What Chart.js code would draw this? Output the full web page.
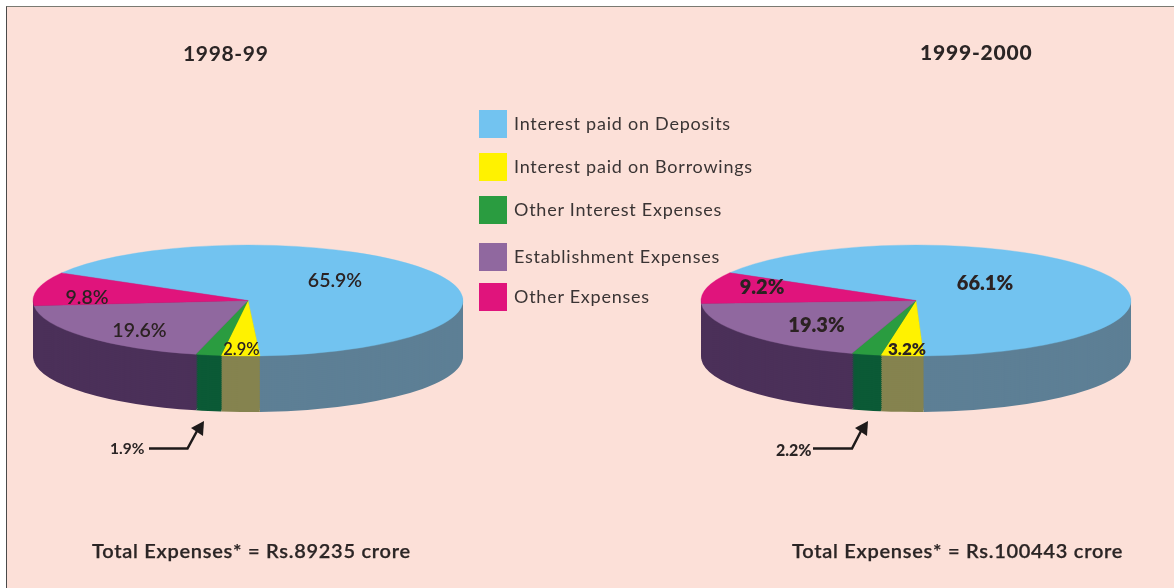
<!DOCTYPE html>
<html>
<head>
<meta charset="utf-8">
<script src="https://cdn.jsdelivr.net/npm/chart.js@4"></script>
<style>
html,body{margin:0;padding:0;background:#fff;}
#stage{position:relative;width:1174px;height:588px;overflow:hidden;background:#fff;font-family:"Lato",sans-serif;color:#2b2525;}
#panel{position:absolute;left:6px;top:6px;width:1168px;height:582px;box-sizing:border-box;background:#fce0d8;border-left:1.5px solid #4a4a4a;border-top:1.5px solid #7a7a72;}
canvas{position:absolute;top:0;}
.t{position:absolute;white-space:nowrap;line-height:1;}
.sw{position:absolute;left:479px;width:28px;height:28px;}
svg{position:absolute;left:0;top:0;}
</style>
</head>
<body>
<div id="stage">
<div id="panel"></div>
<canvas id="c1" width="587" height="588" style="left:0"></canvas>
<canvas id="c2" width="587" height="588" style="left:587px"></canvas>
<svg width="1174" height="588">
<path d="M149 448.5H187.500L197 431" fill="none" stroke="#1e1a1a" stroke-width="2.500"/>
<path d="M204 421L191 428L203 436Z" fill="#1e1a1a"/>
<path d="M813 448.500H852L861 431" fill="none" stroke="#1e1a1a" stroke-width="2.500"/>
<path d="M868 421L855 428L867 436Z" fill="#1e1a1a"/>
</svg>
</div>
<script>
const categories = ["Interest paid on Deposits","Interest paid on Borrowings","Other Interest Expenses","Establishment Expenses","Other Expenses"];
const values1998 = [65.9, 2.9, 1.9, 19.6, 9.8];
const values1999 = [66.1, 3.2, 2.2, 19.3, 9.2];
const topColors = ["#72c3f0","#fff200","#2a9c40","#90689f","#e0147c"];
const sideColors = ["#5d7f95","#85834f","#0b5a36","#4b3059","#4b3059"];
const legendY = [110,153,196,243,283];

const stage = document.getElementById('stage');
function addText(str,x,y,size,weight,extra){
  const d=document.createElement('div');d.className='t';d.textContent=str;
  d.style.cssText=`left:${x}px;top:${y-size/2}px;font-size:${size}px;font-weight:${weight};`+(extra||'');
  stage.appendChild(d);return d;
}
categories.forEach((c,i)=>{
  const s=document.createElement('div');s.className='sw';s.style.top=legendY[i]+'px';s.style.background=topColors[i];stage.appendChild(s);
  addText(c,514,legendY[i]+13,18,400,'letter-spacing:.76px;color:#3a3434;');
});
addText("1998-99",183,52,21,700,'letter-spacing:.65px;');
addText("1999-2000",920,51,21,900,'letter-spacing:.8px;');
addText("Total Expenses* = Rs.89235 crore",92,550,20,600,'letter-spacing:.73px;-webkit-text-stroke:.25px #2b2525;');
addText("Total Expenses* = Rs.100443 crore",792,550,20,600,'letter-spacing:.73px;-webkit-text-stroke:.25px #2b2525;');
addText("1.9%",110,449,15.5,700);
addText("2.2%",776,450,16,900);

const squash = 0.258, depth = 56, layerStep = 2;
const pie3d = {
  id:'pie3d',
  beforeDatasetsDraw(chart){
    const ctx=chart.ctx, arcs=chart.getDatasetMeta(0).data;
    const cx=arcs[0].x, cy=arcs[0].y;
    ctx.save();
    for(let d=depth;d>0;d-=layerStep){
      ctx.save();
      ctx.translate(cx,cy+d);ctx.scale(1,squash);ctx.translate(-cx,-cy);
      arcs.forEach((a,i)=>{
        const o=a.options;
        a.options={backgroundColor:sideColors[i],borderColor:sideColors[i],borderWidth:0,offset:0,spacing:0,borderAlign:'center',borderDash:[],borderDashOffset:0,borderJoinStyle:'round',circular:true,borderRadius:0};
        a.draw(ctx);
        a.options=o;
      });
      ctx.restore();
    }
    ctx.translate(cx,cy);ctx.scale(1,squash);ctx.translate(-cx,-cy);
  },
  afterDatasetsDraw(chart){
    chart.ctx.restore();
    const ctx=chart.ctx, o=chart.options.plugins.pie3d;
    ctx.save();
    ctx.fillStyle='#2b2222';ctx.textAlign='center';ctx.textBaseline='middle';
    o.labels.forEach((l,i)=>{
      ctx.font=`${o.weight} ${l[2]}px Lato, sans-serif`;
      ctx.fillText(o.values[i].toFixed(1)+'%',l[0],l[1]);
    });
    ctx.restore();
  }
};
function makePie(id,values,rotation,padding,labels,weight){
  return new Chart(document.getElementById(id),{
    type:'pie',
    data:{labels:categories,datasets:[{data:values,backgroundColor:topColors,borderColor:topColors,borderWidth:.6,clip:false}]},
    options:{
      responsive:false,animation:false,rotation,radius:215,
      layout:{padding},
      plugins:{legend:{display:false},tooltip:{enabled:false},pie3d:{labels,values,weight}}
    },
    plugins:[pie3d]
  });
}
makePie('c1',values1998,299.8,{left:0,right:91,top:13,bottom:0},
  [[335,281,19.5],[241.5,350,16.5],null,[139.5,331,19.5],[87,298,19.5]].map(x=>x||[-99,-99,1]),600);
makePie('c2',values1999,300,{left:71,right:0,top:13,bottom:0},
  [[398,284,20],[320,350,17],null,[229.5,326,20],[175,288,20]].map(x=>x||[-99,-99,1]),800);
</script>
</body>
</html>
